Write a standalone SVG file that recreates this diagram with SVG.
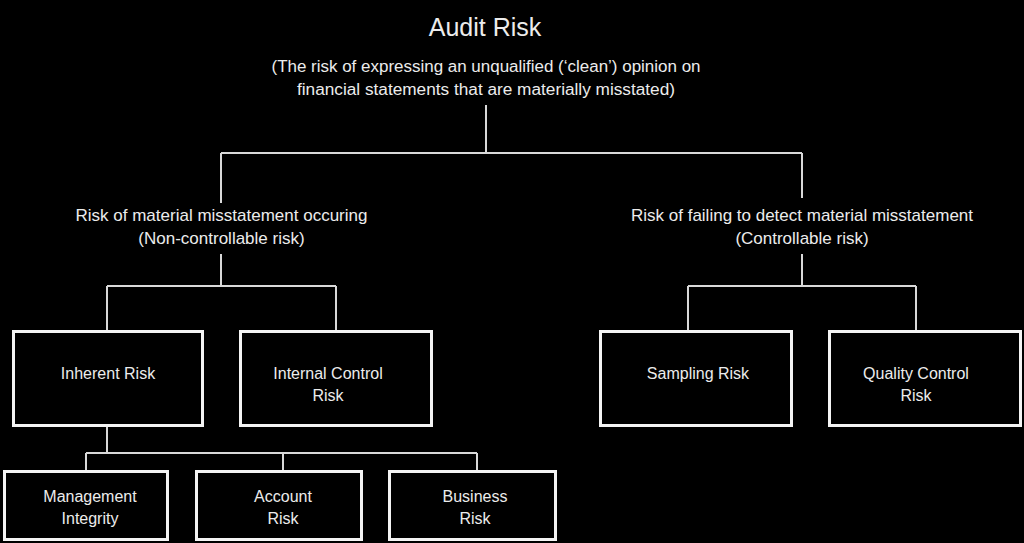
<svg xmlns="http://www.w3.org/2000/svg" width="1024" height="543" viewBox="0 0 1024 543">
<style>
text{font-family:"Liberation Sans",Arial,sans-serif;fill:#ececec;text-anchor:middle}
.t{font-size:25px}
.s{font-size:16px}
.l{font-size:17px}
.n{font-size:16px}
.box{fill:#000;stroke:#f4f4f4;stroke-width:3}
.c{fill:none;stroke:#d9d9d9;stroke-width:2}
</style>
<rect width="1024" height="543" fill="#000"/>
<g id="connectors" class="c">
<path d="M486,105V153M221,153H802M221,153V203M802,153V198"/>
<path d="M221,254V286M107,286H336M107,286V330M336,286V330"/>
<path d="M802,254V286M688,286H916M688,286V330M916,286V330"/>
<path d="M107,427V453M86,453H477M86,453V470M283,453V470M477,453V470"/>
</g>
<g id="audit-risk">
<text class="t" x="485" y="36">Audit Risk</text>
<text class="s" x="486" y="72" textLength="429" lengthAdjust="spacingAndGlyphs">(The risk of expressing an unqualified (‘clean’) opinion on</text>
<text class="s" x="486" y="95" textLength="378" lengthAdjust="spacingAndGlyphs">financial statements that are materially misstated)</text>
</g>
<g id="misstatement-occuring">
<text class="l" x="221.5" y="221">Risk of material misstatement occuring</text>
<text class="l" x="221.5" y="244">(Non-controllable risk)</text>
</g>
<g id="failing-to-detect">
<text class="l" x="802" y="221">Risk of failing to detect material misstatement</text>
<text class="l" x="802" y="244">(Controllable risk)</text>
</g>
<g id="inherent-risk">
<rect class="box" x="13.5" y="331.5" width="189" height="94"/>
<text class="n" x="108" y="379">Inherent Risk</text>
</g>
<g id="internal-control-risk">
<rect class="box" x="240.5" y="331.5" width="191" height="94"/>
<text class="n" x="328" y="379">Internal Control</text>
<text class="n" x="328" y="401">Risk</text>
</g>
<g id="sampling-risk">
<rect class="box" x="600.5" y="331.5" width="191" height="94"/>
<text class="n" x="698" y="379">Sampling Risk</text>
</g>
<g id="quality-control-risk">
<rect class="box" x="829.5" y="331.5" width="191" height="94"/>
<text class="n" x="916" y="379">Quality Control</text>
<text class="n" x="916" y="401">Risk</text>
</g>
<g id="management-integrity">
<rect class="box" x="4.5" y="471.5" width="163" height="68"/>
<text class="n" x="90" y="502">Management</text>
<text class="n" x="90" y="524">Integrity</text>
</g>
<g id="account-risk">
<rect class="box" x="196.5" y="471.5" width="165" height="68"/>
<text class="n" x="283" y="502">Account</text>
<text class="n" x="283" y="524">Risk</text>
</g>
<g id="business-risk">
<rect class="box" x="389.5" y="471.5" width="166" height="68"/>
<text class="n" x="475" y="502">Business</text>
<text class="n" x="475" y="524">Risk</text>
</g>
</svg>
